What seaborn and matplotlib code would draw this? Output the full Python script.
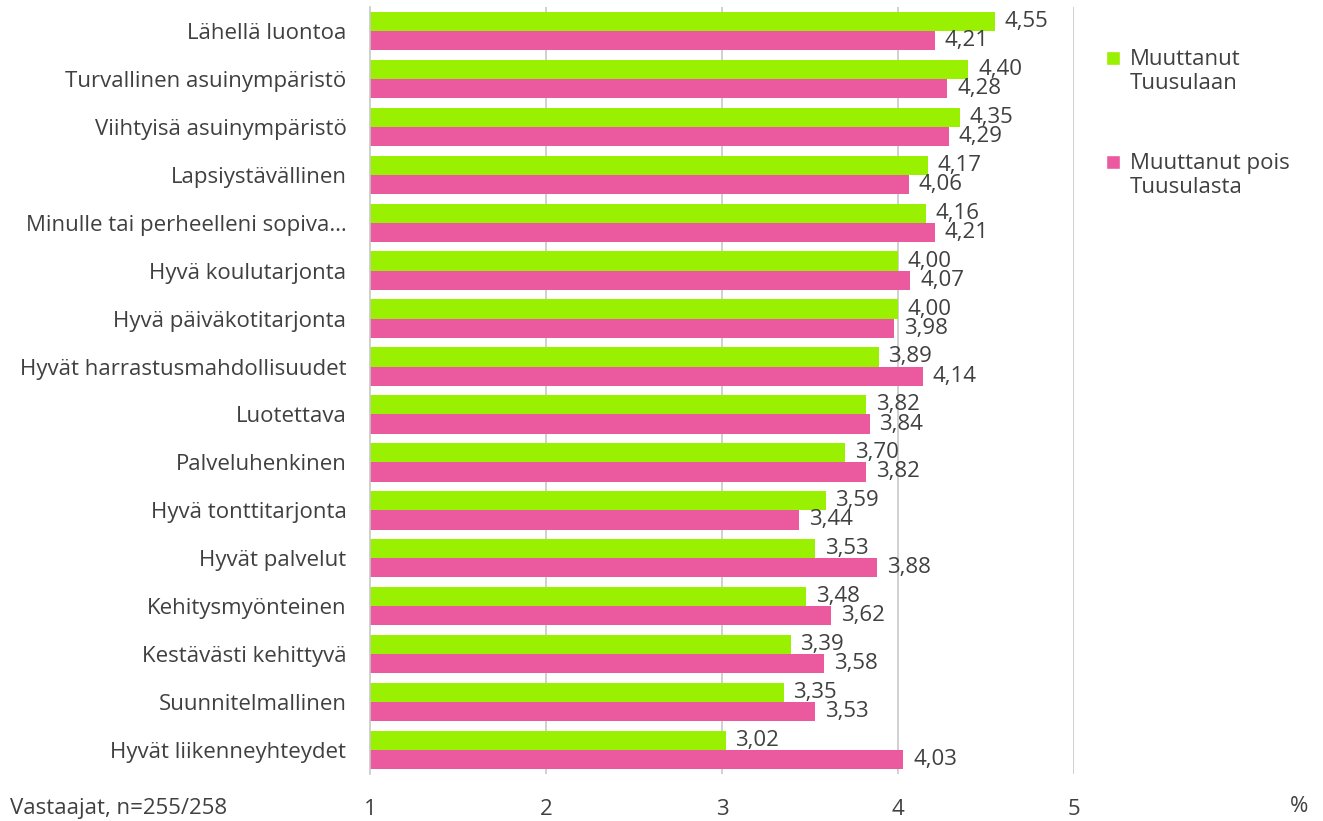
import pandas as pd
import matplotlib.pyplot as plt
import seaborn as sns
from matplotlib.patches import Patch, Rectangle
from matplotlib.legend_handler import HandlerPatch

# --- data ---
categories = [
    "Lähellä luontoa", "Turvallinen asuinympäristö", "Viihtyisä asuinympäristö",
    "Lapsiystävällinen", "Minulle tai perheelleni sopiva…", "Hyvä koulutarjonta",
    "Hyvä päiväkotitarjonta", "Hyvät harrastusmahdollisuudet", "Luotettava",
    "Palveluhenkinen", "Hyvä tonttitarjonta", "Hyvät palvelut",
    "Kehitysmyönteinen", "Kestävästi kehittyvä", "Suunnitelmallinen",
    "Hyvät liikenneyhteydet",
]
series_names = ["Muuttanut\nTuusulaan", "Muuttanut pois\nTuusulasta"]
moved_in = [4.55, 4.40, 4.35, 4.17, 4.16, 4.00, 4.00, 3.89, 3.82, 3.70, 3.59, 3.53, 3.48, 3.39, 3.35, 3.02]
moved_out = [4.21, 4.28, 4.29, 4.06, 4.21, 4.07, 3.98, 4.14, 3.84, 3.82, 3.44, 3.88, 3.62, 3.58, 3.53, 4.03]
x_ticks = [1, 2, 3, 4, 5]

df = pd.DataFrame({
    "kategoria": categories * 2,
    "ryhma": [series_names[0]] * len(categories) + [series_names[1]] * len(categories),
    "arvo": moved_in + moved_out,
})

green = "#99F000"
pink = "#EB5A9E"
text_col = "#404040"
grid_col = "#C8C8C8"
fs = 16

sns.set_theme(style="white")
plt.rcParams['font.family'] = ['Open Sans', 'DejaVu Sans']

fig = plt.figure(figsize=(13.23, 8.21), dpi=100)
ax = fig.add_axes([370 / 1323, 1 - 774 / 821, 704 / 1323, 767 / 821])

sns.barplot(data=df, y="kategoria", x="arvo", hue="ryhma", orient="h",
            palette=[green, pink], saturation=1, width=0.8, linewidth=0,
            ax=ax, legend=False)

# bars start at the axis minimum (1), so shift the bar base there
for cont in ax.containers:
    for bar in cont:
        w = bar.get_width()
        bar.set_x(1)
        bar.set_width(w - 1)
        bar.set_zorder(2)

ax.set_xlim(1, 5)
ax.set_ylim(len(categories) - 0.5, -0.5)
ax.set_xticks(x_ticks)
ax.set_xticklabels([str(t) for t in x_ticks], fontsize=fs, color=text_col)
ax.tick_params(axis="x", pad=18, length=0)
ax.tick_params(axis="y", length=0, pad=17, labelsize=fs, labelcolor=text_col)
ax.set_xlabel("")
ax.set_ylabel("")
for t in x_ticks[1:]:
    ax.axvline(t, color=grid_col, lw=1.2, zorder=0)
for s in ["top", "right", "bottom"]:
    ax.spines[s].set_visible(False)
ax.spines["left"].set_color(grid_col)
ax.spines["left"].set_linewidth(1.2)

for cont, vals in zip(ax.containers, [moved_in, moved_out]):
    ax.bar_label(cont, labels=[f"{v:.2f}".replace(".", ",") for v in vals],
                 padding=7, fontsize=fs, color=text_col)


# legend squares sit next to the first line of the two-line labels
def top_square(legend, orig_handle, xdescent, ydescent, width, height, fontsize):
    return Rectangle((-xdescent, -ydescent + 0.62 * fontsize), width, height)


handles = [Patch(facecolor=green), Patch(facecolor=pink)]
fig.legend(handles, series_names, loc="upper left", bbox_to_anchor=(1097 / 1323, 1 - 40 / 821),
           frameon=False, fontsize=fs, labelcolor=text_col, handlelength=0.62, handleheight=0.62,
           handletextpad=0.45, labelspacing=2.65, borderaxespad=0,
           handler_map={Patch: HandlerPatch(patch_func=top_square)})

fig.text(10 / 1323, 1 - 808 / 821, "Vastaajat, n=255/258", fontsize=fs, color=text_col,
         va="center", ha="left")
fig.text(1299 / 1323, 1 - 806 / 821, "%", fontsize=fs, color=text_col, va="center", ha="center")

plt.savefig("out.png", dpi=100)
